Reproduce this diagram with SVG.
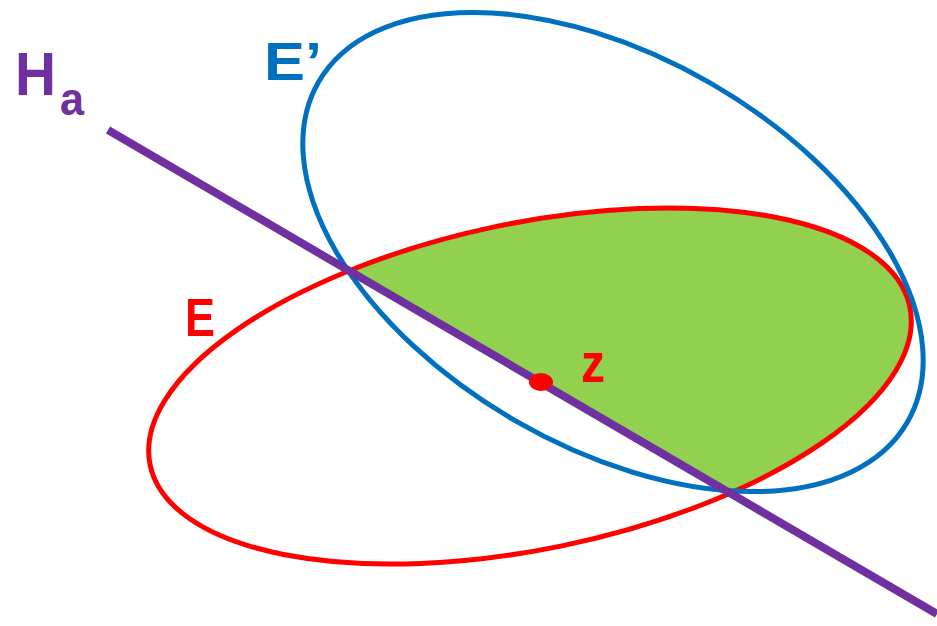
<svg xmlns="http://www.w3.org/2000/svg" width="937" height="626" viewBox="0 0 937 626">
<style>
.lbl{font-family:"Liberation Sans","Open Sans",sans-serif;font-weight:bold}
</style>
<defs>
<clipPath id="above"><polygon points="0,65 937,614 937,0 0,0"/></clipPath>
</defs>
<rect width="937" height="626" fill="#ffffff"/>
<g id="region" clip-path="url(#above)">
<ellipse cx="530" cy="386" rx="386" ry="161" transform="rotate(-11.76 530 386)" fill="#92D050"/>
</g>
<g id="E">
<ellipse cx="530" cy="386" rx="388" ry="163" transform="rotate(-11.76 530 386)" fill="none" stroke="#FF0000" stroke-width="5"/>
<text class="lbl" x="185" y="336" font-size="53" fill="#FF0000" textLength="30" lengthAdjust="spacingAndGlyphs">E</text>
</g>
<g id="Eprime">
<ellipse cx="613" cy="252" rx="340" ry="195" transform="rotate(30 613 252)" fill="none" stroke="#0070C0" stroke-width="5"/>
<text class="lbl" x="264" y="80" font-size="53" fill="#0070C0" textLength="58" lengthAdjust="spacingAndGlyphs">E’</text>
</g>
<g id="connectors">
<line x1="108" y1="130" x2="937" y2="614" stroke="#7030A0" stroke-width="8"/>
</g>
<g id="Ha">
<text class="lbl" x="15" y="95" font-size="62" fill="#7030A0" textLength="41" lengthAdjust="spacingAndGlyphs">H</text>
<text class="lbl" x="60" y="115" font-size="46" fill="#7030A0" textLength="24" lengthAdjust="spacingAndGlyphs">a</text>
</g>
<g id="z">
<ellipse cx="541" cy="382" rx="12" ry="9" fill="#FF0000"/>
<text class="lbl" x="581" y="382" font-size="56" fill="#FF0000" textLength="24" lengthAdjust="spacingAndGlyphs">z</text>
</g>
</svg>
